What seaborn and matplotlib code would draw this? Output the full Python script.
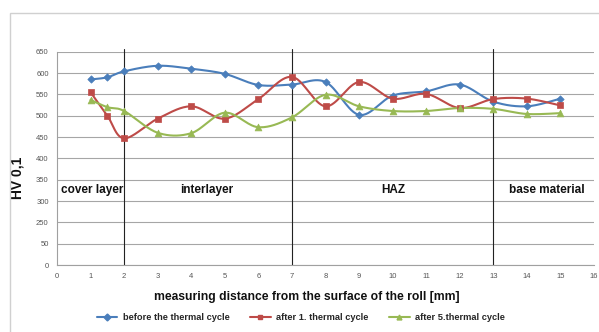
import numpy as np
import pandas as pd
import matplotlib
matplotlib.use("Agg")
import matplotlib.pyplot as plt
from matplotlib.lines import Line2D
from matplotlib.patches import Rectangle
import seaborn as sns

# ---------------- data ----------------
x_pos = [1, 1.5, 2, 3, 4, 5, 6, 7, 8, 9, 10, 11, 12, 13, 14, 15]
before = [585, 590, 604, 617, 610, 598, 572, 573, 579, 502, 547, 557, 573, 533, 522, 540]
after1 = [555, 500, 447, 493, 522, 493, 539, 591, 522, 579, 540, 551, 518, 539, 540, 524]
after5 = [537, 520, 511, 460, 459, 507, 473, 496, 549, 522, 511, 511, 518, 516, 504, 506]
series_names = ["before the thermal cycle", "after 1. thermal cycle", "after 5.thermal cycle"]
zone_labels = ["cover layer", "interlayer", "HAZ", "base material"]
zone_centers = [1.05, 4.45, 10.03, 14.58]
zone_bounds = [2, 7, 13]
y_ticks = [150, 200, 250, 300, 350, 400, 450, 500, 550, 600, 650]
y_ticklabels = ["0", "50", "250", "300", "350", "400", "450", "500", "550", "600", "650"]
x_ticks = list(range(0, 17))

colors = ["#4A7EBB", "#BE4B48", "#98B954"]
markers = ["D", "s", "^"]
msizes = [14, 22, 24]


def smooth(xs, ys, n=30):
    """Excel-like smoothed line (Catmull-Rom Bezier) through the data points."""
    P = np.column_stack([xs, ys]).astype(float)
    out = []
    for i in range(len(P) - 1):
        p0 = P[i - 1] if i > 0 else P[i]
        p1, p2 = P[i], P[i + 1]
        p3 = P[i + 2] if i + 2 < len(P) else P[i + 1]
        c1 = p1 + (p2 - p0) / 6.0
        c2 = p2 - (p3 - p1) / 6.0
        t = np.linspace(0, 1, n, endpoint=(i == len(P) - 2))[:, None]
        seg = ((1 - t) ** 3) * p1 + 3 * ((1 - t) ** 2) * t * c1 + 3 * (1 - t) * t ** 2 * c2 + t ** 3 * p2
        out.append(seg)
    return np.vstack(out)


sns.set_theme(style="white")
plt.rcParams["font.family"] = ["Liberation Sans", "DejaVu Sans"]

fig = plt.figure(figsize=(5.99, 3.32), dpi=100)
fig.patch.set_facecolor("white")
ax = fig.add_axes([57 / 599, 1 - 265 / 332, (594 - 57) / 599, (265 - 51.7) / 332])

# outer chart border
fig.patches.append(Rectangle((10 / 599, -0.01), 1.0, 1 - 13 / 332 + 0.01, transform=fig.transFigure,
                             fill=False, edgecolor="#D0D0D0", linewidth=1.0, zorder=0))

curves = []
points = []
for name, ys in zip(series_names, [before, after1, after5]):
    c = smooth(x_pos, ys)
    curves.append(pd.DataFrame({"x": c[:, 0], "y": c[:, 1], "series": name, "order": np.arange(len(c))}))
    points.append(pd.DataFrame({"x": x_pos, "y": ys, "series": name}))
curves = pd.concat(curves, ignore_index=True)
points = pd.concat(points, ignore_index=True)

palette = dict(zip(series_names, colors))
sns.lineplot(data=curves, x="x", y="y", hue="series", palette=palette, estimator=None,
             sort=False, units="series", linewidth=1.5, legend=False, ax=ax, zorder=3)
for name, m, s in zip(series_names, markers, msizes):
    sub = points[points["series"] == name]
    sns.scatterplot(data=sub, x="x", y="y", color=palette[name], marker=m, s=s,
                    edgecolor=palette[name], linewidth=0.5, legend=False, ax=ax, zorder=4)

ax.set_xlim(0, 16)
ax.set_ylim(150, 650)
ax.set_xticks(x_ticks)
ax.set_xticklabels([str(v) for v in x_ticks])
ax.set_yticks(y_ticks)
ax.set_yticklabels(y_ticklabels)
ax.tick_params(axis="both", labelsize=5.5, colors="#555555", length=0)
ax.tick_params(axis="y", length=3, color="#A0A0A0", width=0.8, pad=3)
ax.tick_params(axis="x", pad=6)
ax.grid(axis="y", color="#A6A6A6", linewidth=0.8)
ax.grid(axis="x", visible=False)
for side in ["top", "right"]:
    ax.spines[side].set_visible(False)
for side in ["left", "bottom"]:
    ax.spines[side].set_color("#A0A0A0")
    ax.spines[side].set_linewidth(0.8)

for b in zone_bounds:
    ax.axvline(b, ymin=0, ymax=1.015, color="#222222", linewidth=0.8, clip_on=False, zorder=2)

for lab, xc in zip(zone_labels, zone_centers):
    ax.text(xc, 326, lab, ha="center", va="center", fontsize=8.5, fontweight="bold", color="#111111")

ax.set_xlabel("measuring distance from the surface of the roll [mm]", fontsize=8.7,
              fontweight="bold", color="#111111")
ax.xaxis.set_label_coords((307 - 57) / 537, -(297 - 265) / 213.3)
ax.xaxis.label.set_va("center")
ax.set_ylabel("HV 0,1", fontsize=10, fontweight="bold", color="#111111")
ax.yaxis.set_label_coords(-0.0596, 0.408)

handles = [Line2D([0], [0], color=c, marker=m, markersize=3.5, linewidth=1.5)
           for c, m in zip(colors, markers)]
fig.legend(handles, series_names, loc="center", bbox_to_anchor=(301 / 599, 1 - 318 / 332),
           ncol=3, frameon=False, prop={"size": 6.7, "weight": "bold"}, handlelength=2.2,
           columnspacing=2.2, handletextpad=0.6)

fig.savefig("out.png", dpi=100, facecolor="white")
